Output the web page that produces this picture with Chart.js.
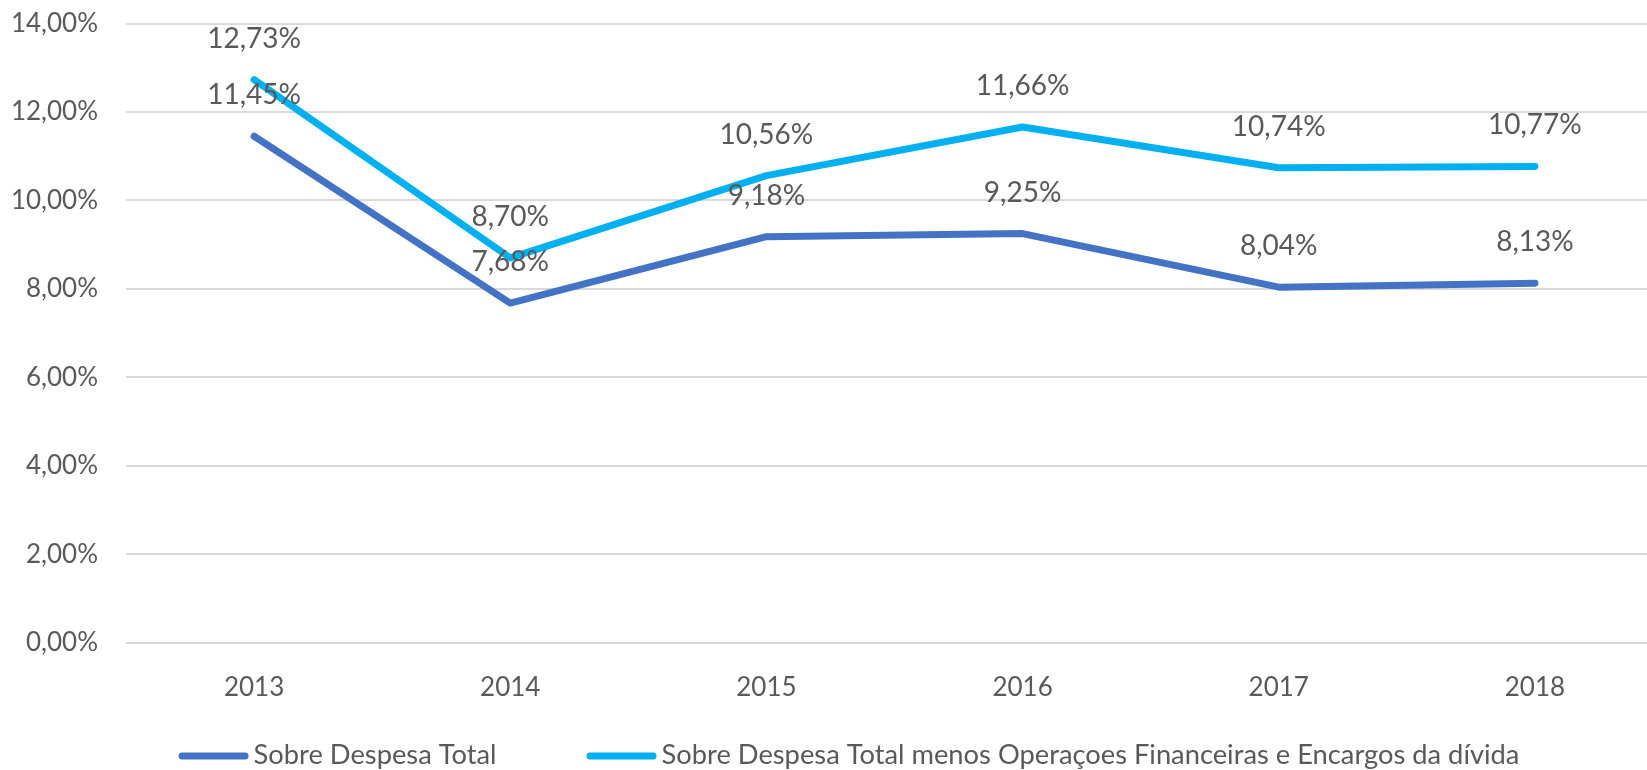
<!DOCTYPE html>
<html>
<head>
<meta charset="utf-8">
<script src="https://cdn.jsdelivr.net/npm/chart.js@4/dist/chart.umd.min.js"></script>
<style>
html,body{margin:0;padding:0;background:#fff;overflow:hidden;width:1647px;height:770px}
#wrap{width:1700px;height:770px;position:relative}
canvas{display:block}
</style>
</head>
<body>
<div id="wrap"><canvas id="c" width="1700" height="770"></canvas></div>
<script>
// ---- data ----
const years = ['2013', '2014', '2015', '2016', '2017', '2018'];
const seriesNames = [
  'Sobre Despesa Total',
  'Sobre Despesa Total menos Operaçoes Financeiras e Encargos da dívida'
];
const sobreDespesaTotal = [11.45, 7.68, 9.18, 9.25, 8.04, 8.13];
const sobreDespesaLiquida = [12.73, 8.70, 10.56, 11.66, 10.74, 10.77];
const yTickLabels = ['0,00%', '2,00%', '4,00%', '6,00%', '8,00%', '10,00%', '12,00%', '14,00%'];

const FONT = 'Lato';
const TEXT = '#595959';
const fmt = v => v.toFixed(2).replace('.', ',') + '%';

const valueLabels = {
  id: 'valueLabels',
  afterDatasetsDraw(chart) {
    const ctx = chart.ctx;
    ctx.save();
    ctx.font = '28px ' + FONT;
    ctx.fillStyle = TEXT;
    ctx.textAlign = 'center';
    ctx.textBaseline = 'middle';
    chart.data.datasets.forEach((ds, i) => {
      chart.getDatasetMeta(i).data.forEach((pt, j) => {
        ctx.fillText(fmt(ds.data[j]), pt.x, pt.y - 41);
      });
    });
    ctx.restore();
  }
};

const bottomLegend = {
  id: 'bottomLegend',
  afterDraw(chart) {
    const ctx = chart.ctx;
    ctx.save();
    ctx.font = '27.3px ' + FONT;
    const lineLen = 70, gapText = 5, gapItem = 90;
    const items = chart.data.datasets.map(ds => ({
      text: ds.label, color: ds.borderColor, w: ctx.measureText(ds.label).width
    }));
    let total = 0;
    items.forEach((it, i) => { total += lineLen + gapText + it.w + (i ? gapItem : 0); });
    let x = 849 - total / 2;
    const y = 755;
    items.forEach((it, i) => {
      if (i) x += gapItem;
      ctx.strokeStyle = it.color;
      ctx.lineWidth = 7;
      ctx.lineCap = 'round';
      ctx.beginPath();
      ctx.moveTo(x + 3.5, y + 1);
      ctx.lineTo(x + lineLen - 3.5, y + 1);
      ctx.stroke();
      x += lineLen + gapText;
      ctx.fillStyle = TEXT;
      ctx.textAlign = 'left';
      ctx.textBaseline = 'middle';
      ctx.fillText(it.text, x, y);
      x += it.w;
    });
    ctx.restore();
  }
};

new Chart(document.getElementById('c'), {
  type: 'line',
  data: {
    labels: years,
    datasets: [
      {
        label: seriesNames[0],
        data: sobreDespesaTotal,
        borderColor: '#4472C4',
        backgroundColor: '#4472C4',
        borderWidth: 7,
        borderCapStyle: 'round',
        borderJoinStyle: 'round',
        pointRadius: 0,
        tension: 0
      },
      {
        label: seriesNames[1],
        data: sobreDespesaLiquida,
        borderColor: '#00B0F0',
        backgroundColor: '#00B0F0',
        borderWidth: 7,
        borderCapStyle: 'round',
        borderJoinStyle: 'round',
        pointRadius: 0,
        tension: 0
      }
    ]
  },
  options: {
    responsive: false,
    animation: false,
    devicePixelRatio: 1,
    layout: { padding: { top: 23.5, right: 37, bottom: 38, left: 0 } },
    plugins: {
      legend: { display: false },
      tooltip: { enabled: false }
    },
    scales: {
      x: {
        offset: true,
        grid: { display: false, drawTicks: false },
        border: { display: false },
        ticks: { color: TEXT, font: { family: FONT, size: 26 }, padding: 29, maxRotation: 0 }
      },
      y: {
        min: 0, max: 14,
        afterFit(scale) { scale.width = 126; scale.paddingTop = 0; scale.paddingBottom = 0; },
        grid: { color: '#D9D9D9', lineWidth: 2, drawTicks: false },
        border: { display: false },
        ticks: {
          stepSize: 2,
          color: TEXT,
          font: { family: FONT, size: 26 },
          padding: 28,
          callback: (v, i) => yTickLabels[i]
        }
      }
    }
  },
  plugins: [valueLabels, bottomLegend]
});
</script>
</body>
</html>
